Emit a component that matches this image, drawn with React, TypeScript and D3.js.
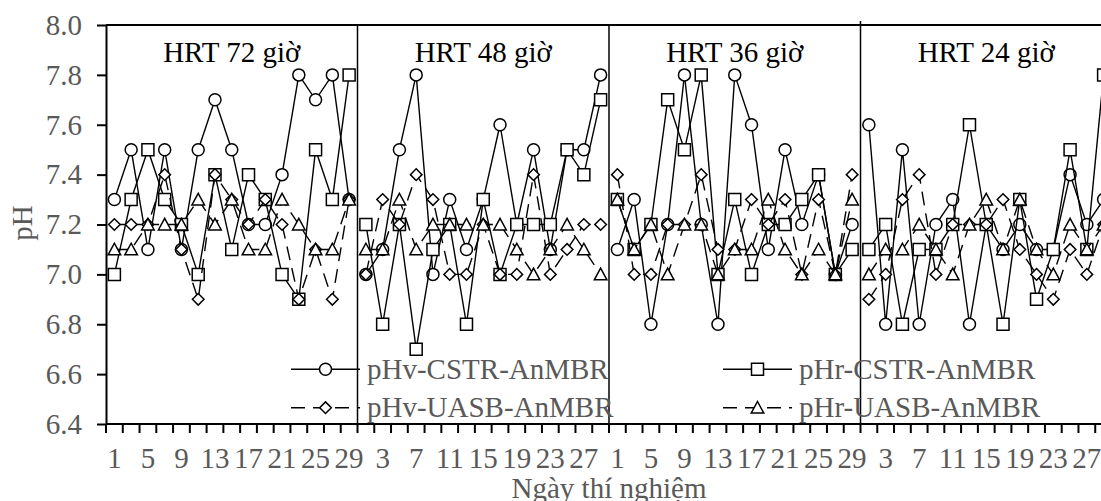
import React, { useRef, useEffect } from 'react';
import * as d3 from 'd3';

// Panels (HRT stages) and sampling days inside each stage
const panels = ['HRT 72 giờ', 'HRT 48 giờ', 'HRT 36 giờ', 'HRT 24 giờ'];
const days = [1, 3, 5, 7, 9, 11, 13, 15, 17, 19, 21, 23, 25, 27, 29];
const yTicks = [6.4, 6.6, 6.8, 7.0, 7.2, 7.4, 7.6, 7.8, 8.0];

// pH values, one row per HRT panel
const pHvCSTR = [
  [7.3, 7.5, 7.1, 7.5, 7.1, 7.5, 7.7, 7.5, 7.2, 7.2, 7.4, 7.8, 7.7, 7.8, 7.3],
  [7.0, 7.1, 7.5, 7.8, 7.0, 7.3, 7.1, 7.3, 7.6, 7.2, 7.5, 7.1, 7.5, 7.5, 7.8],
  [7.1, 7.3, 6.8, 7.2, 7.8, 7.2, 6.8, 7.8, 7.6, 7.1, 7.5, 7.2, 7.4, 7.0, 7.2],
  [7.6, 6.8, 7.5, 6.8, 7.2, 7.3, 6.8, 7.2, 7.1, 7.2, 7.1, 7.1, 7.4, 7.2, 7.3],
];
const pHrCSTR = [
  [7.0, 7.3, 7.5, 7.3, 7.2, 7.0, 7.4, 7.1, 7.4, 7.3, 7.0, 6.9, 7.5, 7.3, 7.8],
  [7.2, 6.8, 7.2, 6.7, 7.1, 7.2, 6.8, 7.3, 7.0, 7.2, 7.2, 7.2, 7.5, 7.4, 7.7],
  [7.3, 7.1, 7.2, 7.7, 7.5, 7.8, 7.0, 7.3, 7.0, 7.2, 7.2, 7.3, 7.4, 7.0, 7.1],
  [7.1, 7.2, 6.8, 7.1, 7.1, 7.2, 7.6, 7.2, 6.8, 7.3, 6.9, 7.1, 7.5, 7.1, 7.8],
];
const pHvUASB = [
  [7.2, 7.2, 7.2, 7.4, 7.1, 6.9, 7.4, 7.3, 7.2, 7.3, 7.2, 6.9, 7.1, 6.9, 7.3],
  [7.0, 7.3, 7.2, 7.4, 7.3, 7.0, 7.0, 7.2, 7.0, 7.0, 7.4, 7.0, 7.1, 7.2, 7.2],
  [7.4, 7.0, 7.0, 7.2, 7.2, 7.4, 7.1, 7.1, 7.3, 7.2, 7.3, 7.0, 7.3, 7.0, 7.4],
  [6.9, 7.0, 7.3, 7.4, 7.0, 7.2, 7.2, 7.2, 7.3, 7.1, 7.0, 6.9, 7.1, 7.0, 7.2],
];
const pHrUASB = [
  [7.1, 7.1, 7.2, 7.2, 7.2, 7.3, 7.2, 7.3, 7.1, 7.1, 7.3, 7.2, 7.1, 7.1, 7.3],
  [7.1, 7.1, 7.3, 7.1, 7.2, 7.2, 7.2, 7.2, 7.2, 7.1, 7.0, 7.1, 7.2, 7.1, 7.0],
  [7.3, 7.1, 7.2, 7.0, 7.2, 7.2, 7.0, 7.1, 7.1, 7.3, 7.1, 7.0, 7.1, 7.0, 7.3],
  [7.0, 7.1, 7.1, 7.2, 7.1, 7.0, 7.2, 7.3, 7.1, 7.3, 7.1, 7.0, 7.2, 7.1, 7.2],
];

const series = [
  { name: 'pHv-CSTR-AnMBR', values: pHvCSTR, marker: 'circle', dashed: false },
  { name: 'pHr-CSTR-AnMBR', values: pHrCSTR, marker: 'square', dashed: false },
  { name: 'pHv-UASB-AnMBR', values: pHvUASB, marker: 'diamond', dashed: true },
  { name: 'pHr-UASB-AnMBR', values: pHrUASB, marker: 'triangle', dashed: true },
];

const font = "'Liberation Serif', 'Times New Roman', serif";
const gray = '#595959';

const markerPath = (type: string) => {
  if (type === 'circle') return d3.symbol(d3.symbolCircle, Math.PI * 36)() as string;
  if (type === 'square') return 'M-6,-6H6V6H-6Z';
  if (type === 'diamond') return 'M0,-5.8L5.8,0L0,5.8L-5.8,0Z';
  return 'M0,-6.2L6.3,5.4L-6.3,5.4Z';
};

const PHChart = () => {
  const chartRef = useRef<SVGSVGElement | null>(null);

  useEffect(() => {
    if (!chartRef.current) return;
    const svg = d3.select(chartRef.current);
    svg.selectAll('*').remove();

    // Set up chart dimensions (right edge of the plot runs past the picture)
    const plot = { left: 106, right: 1112, top: 25, bottom: 424 };

    // Create scales
    const keys = panels.flatMap((_, pi) => days.map((d) => `${pi}-${d}`));
    const xScale = d3.scaleBand<string>().domain(keys).range([plot.left, plot.right]).padding(0);
    const yScale = d3.scaleLinear().domain([6.4, 8.0]).range([plot.bottom, plot.top]);
    const bw = xScale.bandwidth();
    const cx = (pi: number, d: number) => (xScale(`${pi}-${d}`) as number) + bw / 2;

    // Plot border (top) and panel separators
    svg.append('line')
      .attr('x1', plot.left).attr('x2', plot.right)
      .attr('y1', plot.top).attr('y2', plot.top)
      .attr('stroke', '#000').attr('stroke-width', 1.8);

    panels.forEach((p, pi) => {
      const x0 = xScale(`${pi}-${days[0]}`) as number;
      const x1 = (xScale(`${pi}-${days[days.length - 1]}`) as number) + bw;
      if (pi > 0) {
        svg.append('line')
          .attr('x1', x0).attr('x2', x0)
          .attr('y1', pi === 3 ? plot.top - 4 : plot.top).attr('y2', plot.bottom)
          .attr('stroke', '#000').attr('stroke-width', 1.5);
      }
      svg.append('text')
        .attr('x', (x0 + x1) / 2).attr('y', 62)
        .attr('text-anchor', 'middle')
        .attr('font-family', font).attr('font-size', 29).attr('fill', '#000')
        .text(p);
    });

    // Add y-axis
    const yAxis = d3.axisLeft(yScale)
      .tickValues(yTicks)
      .tickFormat(d3.format('.1f'))
      .tickSize(9)
      .tickSizeOuter(0)
      .tickPadding(15);
    const gy = svg.append('g').attr('transform', `translate(${plot.left},0)`).call(yAxis);
    gy.attr('font-family', font).attr('font-size', 29);
    gy.select('.domain').attr('stroke-width', 2);
    gy.selectAll('.tick line').attr('stroke-width', 2);
    gy.selectAll('.tick text').attr('fill', gray);

    // Add x-axis (ticks between categories, labels every second day)
    const gx = svg.append('g');
    gx.append('line')
      .attr('x1', plot.left).attr('x2', plot.right)
      .attr('y1', plot.bottom).attr('y2', plot.bottom)
      .attr('stroke', '#000').attr('stroke-width', 2);
    const edges = keys.map((k) => xScale(k) as number).concat([plot.right]);
    gx.selectAll('.xtick')
      .data(edges)
      .enter()
      .append('line')
      .attr('x1', (d) => d).attr('x2', (d) => d)
      .attr('y1', plot.bottom).attr('y2', plot.bottom + 9)
      .attr('stroke', '#000').attr('stroke-width', 2);
    gx.selectAll('.xlabel')
      .data(keys.filter((_, i) => i % 2 === 0))
      .enter()
      .append('text')
      .attr('x', (k) => (xScale(k) as number) + bw / 2)
      .attr('y', 468)
      .attr('text-anchor', 'middle')
      .attr('font-family', font).attr('font-size', 29).attr('fill', gray)
      .text((k) => k.split('-')[1]);

    // Axis titles
    svg.append('text')
      .attr('x', (plot.left + plot.right) / 2).attr('y', 498)
      .attr('text-anchor', 'middle')
      .attr('font-family', font).attr('font-size', 29).attr('fill', gray)
      .text('Ngày thí nghiệm');
    svg.append('text')
      .attr('transform', `translate(32,223) rotate(-90)`)
      .attr('text-anchor', 'middle')
      .attr('font-family', font).attr('font-size', 29).attr('fill', gray)
      .text('pH');

    // Render series: line per panel, then markers
    const line = d3.line<[number, number]>().x((d) => d[0]).y((d) => d[1]);
    series.forEach((s) => {
      const g = svg.append('g');
      s.values.forEach((vals, pi) => {
        const pts: [number, number][] = vals.map((v, j) => [cx(pi, days[j]), yScale(v)]);
        g.append('path')
          .attr('d', line(pts))
          .attr('fill', 'none')
          .attr('stroke', '#000')
          .attr('stroke-width', 1.4)
          .attr('stroke-dasharray', s.dashed ? '14 8' : null);
        g.selectAll(`.m${pi}`)
          .data(pts)
          .enter()
          .append('path')
          .attr('transform', (d) => `translate(${d[0]},${d[1]})`)
          .attr('d', markerPath(s.marker))
          .attr('fill', '#fff')
          .attr('stroke', '#000')
          .attr('stroke-width', 1.5);
      });
    });

    // Legend, two columns
    const legendCols = [291, 723];
    const legendRows = [369.3, 407.7];
    series.forEach((s, i) => {
      const lx = legendCols[i % 2];
      const ly = legendRows[Math.floor(i / 2)];
      const g = svg.append('g').attr('transform', `translate(${lx},${ly})`);
      g.append('line')
        .attr('x1', 0).attr('x2', 69).attr('y1', 0).attr('y2', 0)
        .attr('stroke', '#000').attr('stroke-width', 1.4)
        .attr('stroke-dasharray', s.dashed ? '14 8' : null);
      g.append('path')
        .attr('transform', 'translate(34.5,0)')
        .attr('d', markerPath(s.marker))
        .attr('fill', '#fff').attr('stroke', '#000').attr('stroke-width', 1.5);
      g.append('text')
        .attr('x', 76).attr('y', 0).attr('dy', '0.32em')
        .attr('font-family', font).attr('font-size', 29).attr('fill', gray)
        .text(s.name);
    });

    return () => {
      svg.selectAll('*').remove();
    };
  }, []);

  return (
    <svg
      ref={chartRef}
      width={1101}
      height={501}
      style={{ position: 'absolute', left: 0, top: 0, background: '#fff' }}
    />
  );
};

export default function App() {
  return <PHChart />;
}
